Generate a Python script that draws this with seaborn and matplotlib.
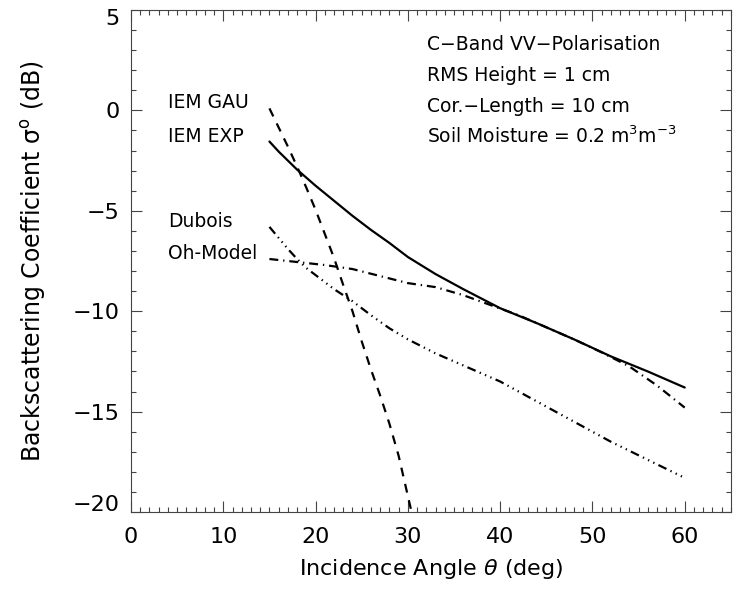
import numpy as np
import pandas as pd
import seaborn as sns
import matplotlib
matplotlib.use("Agg")
import matplotlib.pyplot as plt
import matplotlib.transforms as mtransforms
from matplotlib.ticker import MultipleLocator, FuncFormatter

# Incidence angles (deg) and backscatter (dB) for each surface scattering model
theta_gau = [15, 16, 17, 18, 19, 20, 21, 22, 23, 24, 25, 26, 27, 28, 29, 30, 30.4]
sigma_gau = [0.1, -0.85, -1.8, -2.8, -3.85, -4.95, -6.15, -7.35, -8.7, -10.0,
             -11.5, -12.9, -14.2, -15.6, -17.2, -19.2, -20.0]

theta_exp = [15, 16, 17, 18, 19, 20, 22, 24, 26, 28, 30, 33, 36, 40, 44, 48, 52, 56, 60]
sigma_exp = [-1.55, -2.05, -2.5, -2.95, -3.35, -3.75, -4.5, -5.25, -5.95, -6.6,
             -7.3, -8.15, -8.9, -9.85, -10.6, -11.4, -12.25, -13.0, -13.8]

theta_dub = [15, 16, 17, 18, 19, 20, 22, 24, 26, 28, 30, 33, 36, 40, 44, 48, 52, 56, 60]
sigma_dub = [-5.8, -6.35, -6.9, -7.4, -7.85, -8.2, -8.9, -9.5, -10.2, -10.85,
             -11.4, -12.1, -12.7, -13.5, -14.5, -15.5, -16.5, -17.4, -18.3]

theta_oh = [15, 18, 21, 24, 27, 30, 33, 36, 39, 42, 45, 48, 51, 54, 57, 60]
sigma_oh = [-7.4, -7.55, -7.7, -7.9, -8.25, -8.6, -8.8, -9.2, -9.7, -10.2,
            -10.8, -11.4, -12.05, -12.75, -13.7, -14.8]

model_names = ["IEM GAU", "IEM EXP", "Dubois", "Oh-Model"]

info_lines = ["C\u2212Band VV\u2212Polarisation",
              "RMS Height = 1 cm",
              "Cor.\u2212Length = 10 cm",
              r"Soil Moisture = 0.2 $\mathregular{m^3m^{-3}}$"]

frames = []
for name, th, sg in zip(model_names,
                        [theta_gau, theta_exp, theta_dub, theta_oh],
                        [sigma_gau, sigma_exp, sigma_dub, sigma_oh]):
    frames.append(pd.DataFrame({"theta": th, "sigma": sg, "model": name}))
df = pd.concat(frames, ignore_index=True)

sns.set_theme(style="ticks")
plt.rcParams["font.family"] = ["DejaVu Sans"]
plt.rcParams["mathtext.fontset"] = "dejavusans"
plt.rcParams["text.color"] = "black"
plt.rcParams["axes.labelcolor"] = "black"
plt.rcParams["xtick.color"] = "black"
plt.rcParams["ytick.color"] = "black"

fig = plt.figure(figsize=(7.36, 5.89), dpi=100)
ax = fig.add_axes([0.178, 0.1307, 0.815, 0.8523])

line_dashes = {
    "IEM GAU": (4, 3.5),
    "IEM EXP": "",
    "Dubois": (4, 2, 0.6, 2, 0.6, 2, 0.6, 2),
    "Oh-Model": (4, 2.2, 0.6, 2.2),
}
sns.lineplot(data=df, x="theta", y="sigma", hue="model", style="model",
             palette={m: "black" for m in model_names}, dashes=line_dashes,
             linewidth=1.6, legend=False, sort=True, estimator=None, ax=ax)

# model names placed at the start of each curve
for name, th, sg in zip(model_names,
                        [theta_gau, theta_exp, theta_dub, theta_oh],
                        [sigma_gau, sigma_exp, sigma_dub, sigma_oh]):
    ax.text(4.0, sg[0], name, fontsize=13.5, va="baseline", ha="left",
            color="black")

# simulation parameters, upper right
info_y = [3.0, 1.45, -0.08, -1.62]
for txt, yy in zip(info_lines, info_y):
    ax.text(32.1, yy, txt, fontsize=13.5, va="baseline", ha="left",
            color="black")

ax.set_xlim(0, 65)
ax.set_ylim(-20, 5)
ax.xaxis.set_major_locator(MultipleLocator(10))
ax.xaxis.set_minor_locator(MultipleLocator(1))
ax.yaxis.set_major_locator(MultipleLocator(5))
ax.yaxis.set_minor_locator(MultipleLocator(1))
ax.yaxis.set_major_formatter(FuncFormatter(
    lambda v, p: f"{v:.0f}".replace("-", "\u2212")))

ax.tick_params(which="both", direction="in", top=True, right=True,
               color="#444444", width=0.8, labelsize=16, labelcolor="black")
ax.tick_params(which="major", length=8)
ax.tick_params(which="minor", length=3.6)
ax.tick_params(axis="x", which="major", pad=11)
ax.tick_params(axis="y", which="major", pad=8)
for s in ax.spines.values():
    s.set_color("#444444")
    s.set_linewidth(0.8)

# keep the end labels of the y axis inside the frame height
yticks = ax.yaxis.get_major_ticks()
for tk, loc in zip(yticks, ax.get_yticks()):
    if np.isclose(loc, 5):
        tk.label1.set_transform(tk.label1.get_transform() +
                                mtransforms.ScaledTranslation(0, -7 / 100, fig.dpi_scale_trans))
    elif np.isclose(loc, -20):
        tk.label1.set_transform(tk.label1.get_transform() +
                                mtransforms.ScaledTranslation(0, 9 / 100, fig.dpi_scale_trans))

ax.set_xlabel(r"Incidence Angle $\theta$ (deg)", fontsize=16, labelpad=7,
              color="black")
ax.set_ylabel(r"Backscattering Coefficient $\mathregular{\sigma^o}$ (dB)",
              fontsize=17, labelpad=18, color="black")

fig.savefig("out.png", dpi=100)
